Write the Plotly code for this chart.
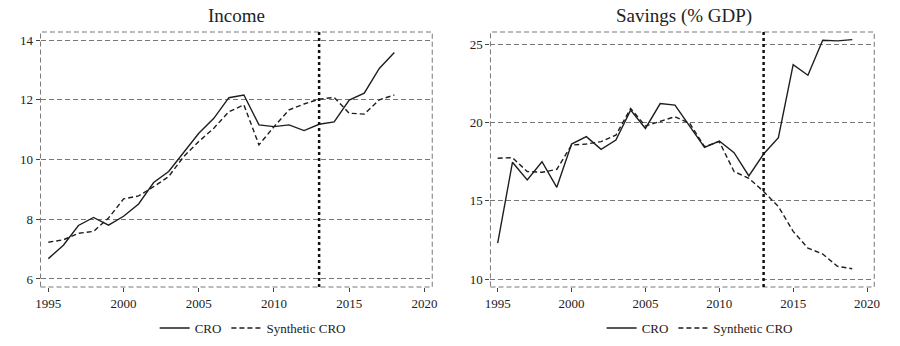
import plotly.graph_objects as go

years_inc = list(range(1995, 2019))
income_cro = [6.68, 7.13, 7.79, 8.06, 7.80, 8.10, 8.51, 9.23, 9.60, 10.26, 10.88, 11.38,
              12.07, 12.16, 11.16, 11.10, 11.16, 10.97, 11.18, 11.26, 11.99, 12.22, 13.05, 13.58]
income_syn = [7.23, 7.31, 7.53, 7.59, 8.04, 8.68, 8.78, 9.09, 9.43, 10.10, 10.60, 11.05,
              11.60, 11.83, 10.49, 11.10, 11.66, 11.86, 12.02, 12.08, 11.55, 11.52, 12.00, 12.16]

years_sav = list(range(1995, 2020))
sav_cro = [12.3, 17.47, 16.34, 17.51, 15.87, 18.64, 19.11, 18.30, 18.90, 20.81, 19.64, 21.23,
           21.13, 19.79, 18.43, 18.83, 18.09, 16.60, 18.00, 19.05, 23.72, 23.04, 25.28, 25.24, 25.32]
sav_syn = [17.73, 17.77, 16.88, 16.83, 17.02, 18.57, 18.64, 18.79, 19.21, 20.92, 19.79, 20.07,
           20.39, 19.96, 18.47, 18.79, 16.88, 16.45, 15.60, 14.64, 13.05, 11.98, 11.60, 10.81, 10.66]

titles = ["Income", "Savings (% GDP)"]
legend_names = ["CRO", "Synthetic CRO"]
x_ticks = [1995, 2000, 2005, 2010, 2015, 2020]
income_ticks = [6, 8, 10, 12, 14]
sav_ticks = [10, 15, 20, 25]
treat_year = 2013

FONT = "Liberation Serif"
LINE = "#1e1e1e"
GRID = "#777777"
GRIDDASH = "5px,3px"

fig = go.Figure()
fig.add_trace(go.Scatter(x=years_inc, y=income_cro, mode="lines", name=legend_names[0],
                         line=dict(color=LINE, width=1.4), xaxis="x", yaxis="y", legend="legend"))
fig.add_trace(go.Scatter(x=years_inc, y=income_syn, mode="lines", name=legend_names[1],
                         line=dict(color=LINE, width=1.4, dash="5px,3px"), xaxis="x", yaxis="y", legend="legend"))
fig.add_trace(go.Scatter(x=years_sav, y=sav_cro, mode="lines", name=legend_names[0],
                         line=dict(color=LINE, width=1.4), xaxis="x2", yaxis="y2", legend="legend2"))
fig.add_trace(go.Scatter(x=years_sav, y=sav_syn, mode="lines", name=legend_names[1],
                         line=dict(color=LINE, width=1.4, dash="5px,3px"), xaxis="x2", yaxis="y2", legend="legend2"))

ydom = [1 - 287 / 346, 1 - 32 / 346]
fig.update_layout(
    width=900, height=346,
    margin=dict(l=0, r=0, t=0, b=0),
    paper_bgcolor="white", plot_bgcolor="white",
    font=dict(family=FONT, size=13, color="#222"),
    xaxis=dict(domain=[35 / 900, 432 / 900], range=[1994.48, 2020.52], anchor="y"),
    yaxis=dict(domain=ydom, range=[5.73, 14.27], tickvals=income_ticks, anchor="x"),
    xaxis2=dict(domain=[491 / 900, 880 / 900], range=[1994.51, 2020.49], anchor="y2"),
    yaxis2=dict(domain=ydom, range=[9.49, 25.81], tickvals=sav_ticks, anchor="x2"),
    legend=dict(orientation="h", x=250 / 900, xanchor="center", y=1 - 328 / 346, yanchor="middle",
                bgcolor="rgba(0,0,0,0)", font=dict(family=FONT, size=13, color="#222")),
    legend2=dict(orientation="h", x=703 / 900, xanchor="center", y=1 - 328 / 346, yanchor="middle",
                 bgcolor="rgba(0,0,0,0)", font=dict(family=FONT, size=13, color="#222")),
)
fig.update_xaxes(showgrid=False, ticks="outside", ticklen=4, tickcolor="#444", zeroline=False,
                 showline=False, tickvals=x_ticks,
                 tickfont=dict(family=FONT, size=13, color="#222"))
fig.update_yaxes(showgrid=True, gridcolor=GRID, griddash=GRIDDASH, gridwidth=1,
                 zeroline=False, showline=False, ticks="outside", ticklen=4, tickcolor="#444",
                 tickfont=dict(family=FONT, size=13, color="#222"))

shapes = []
for xr, yr in [("x", "y"), ("x2", "y2")]:
    shapes.append(dict(type="rect", xref=f"{xr} domain", yref=f"{yr} domain", x0=0, x1=1, y0=0, y1=1,
                       line=dict(color=GRID, width=1, dash=GRIDDASH), layer="below"))
    shapes.append(dict(type="line", xref=xr, yref=f"{yr} domain", x0=treat_year, x1=treat_year, y0=0, y1=1,
                       line=dict(color="#111", width=2.5, dash="dot")))
fig.update_layout(shapes=shapes)

fig.add_annotation(text=titles[0], xref="paper", yref="paper", x=234 / 900, y=1 - 16 / 346,
                   xanchor="center", yanchor="middle", showarrow=False,
                   font=dict(family=FONT, size=19, color="#222"))
fig.add_annotation(text=titles[1], xref="paper", yref="paper", x=687 / 900, y=1 - 16 / 346,
                   xanchor="center", yanchor="middle", showarrow=False,
                   font=dict(family=FONT, size=19, color="#222"))

fig.write_html("out.html")
